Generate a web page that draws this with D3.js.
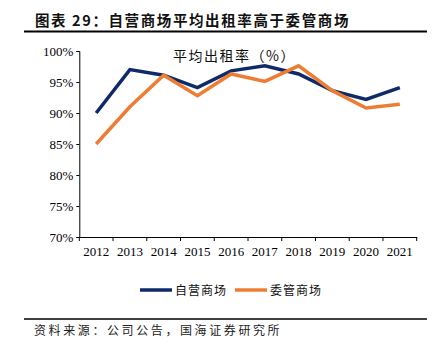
<!DOCTYPE html>
<html>
<head>
<meta charset="utf-8">
<script src="https://cdn.jsdelivr.net/npm/d3@7"></script>
<style>
  body { margin: 0; background: #fff; }
  svg { display: block; }
</style>
</head>
<body>
<svg id="chart" width="436" height="348"></svg>
<script>
// data
const years = ['2012', '2013', '2014', '2015', '2016', '2017', '2018', '2019', '2020', '2021'];
const selfRun = [90.0, 97.0, 96.1, 94.1, 96.8, 97.6, 96.3, 93.6, 92.2, 94.1];
const entrusted = [85.0, 91.0, 96.1, 92.8, 96.3, 95.1, 97.6, 93.6, 90.8, 91.4];
const yTicks = [70, 75, 80, 85, 90, 95, 100];
const seriesNames = ['自营商场', '委管商场'];
const colors = ['#0e2a69', '#ec7d32'];

const svg = d3.select('#chart');
const serif = '"Liberation Serif", "Times New Roman", serif';
const cjk = '"Noto Sans CJK SC", sans-serif';

// title + rules
svg.append('text')
    .attr('x', 35).attr('y', 26)
    .attr('font-family', cjk).attr('font-weight', 'bold')
    .attr('font-size', 14.5).attr('fill', '#111')
    .attr('letter-spacing', 1.6)
    .text('图表 29：自营商场平均出租率高于委管商场');
svg.append('line')
    .attr('x1', 24).attr('x2', 427).attr('y1', 31.5).attr('y2', 31.5)
    .attr('stroke', '#000').attr('stroke-width', 2);
svg.append('line')
    .attr('x1', 24).attr('x2', 427).attr('y1', 319).attr('y2', 319)
    .attr('stroke', '#000').attr('stroke-width', 1.5);
svg.append('text')
    .attr('x', 34).attr('y', 335)
    .attr('font-family', cjk).attr('font-size', 12).attr('fill', '#222')
    .attr('letter-spacing', 2.6)
    .text('资料来源：公司公告，国海证券研究所');

// scales
const x = d3.scaleBand().domain(years).range([79.3, 416.7]);
const y = d3.scaleLinear().domain([70, 100]).range([237, 51]);

const g = svg.append('g');

const yAxis = g.append('g')
    .attr('transform', 'translate(79.3,0)')
    .call(d3.axisLeft(y).tickValues(yTicks).tickSize(3).tickPadding(3)
        .tickFormat(d => d + '%'));
const xAxis = g.append('g')
    .attr('transform', 'translate(0,237)')
    .call(d3.axisBottom(x).tickSize(0).tickPadding(10));

// band-edge ticks on the x axis
const edges = years.map(d => x(d)).concat([x.range()[1]]);
xAxis.selectAll('.edge').data(edges).enter().append('line')
    .attr('x1', d => d).attr('x2', d => d).attr('y1', 0).attr('y2', 4)
    .attr('stroke', '#000');

[yAxis, xAxis].forEach(a => {
  a.selectAll('path.domain').attr('stroke', '#000');
  a.selectAll('.tick line').attr('stroke', '#000');
  a.selectAll('text').attr('font-family', serif).attr('font-size', 13).attr('fill', '#000');
});

// lines
const line = d3.line()
    .x((d, i) => x(years[i]) + x.bandwidth() / 2)
    .y(d => y(d));

[selfRun, entrusted].forEach((vals, k) => {
  g.append('path')
      .datum(vals)
      .attr('d', line)
      .attr('fill', 'none')
      .attr('stroke', colors[k])
      .attr('stroke-width', 3.5)
      .attr('stroke-linejoin', 'miter');
});

// inner caption
svg.append('text')
    .attr('x', 173).attr('y', 61)
    .attr('font-family', cjk).attr('font-size', 14).attr('fill', '#111')
    .attr('letter-spacing', 1.5)
    .text('平均出租率（%）');

// legend
const legendX = [140, 235];
seriesNames.forEach((name, k) => {
  const lg = svg.append('g').attr('transform', `translate(${legendX[k]},290)`);
  lg.append('line')
      .attr('x1', 0).attr('x2', 32).attr('y1', 0).attr('y2', 0)
      .attr('stroke', colors[k]).attr('stroke-width', 3.5);
  lg.append('text')
      .attr('x', 35).attr('y', 4.5)
      .attr('font-family', cjk).attr('font-size', 12).attr('fill', '#111')
      .attr('letter-spacing', 1)
      .text(name);
});
</script>
</body>
</html>
